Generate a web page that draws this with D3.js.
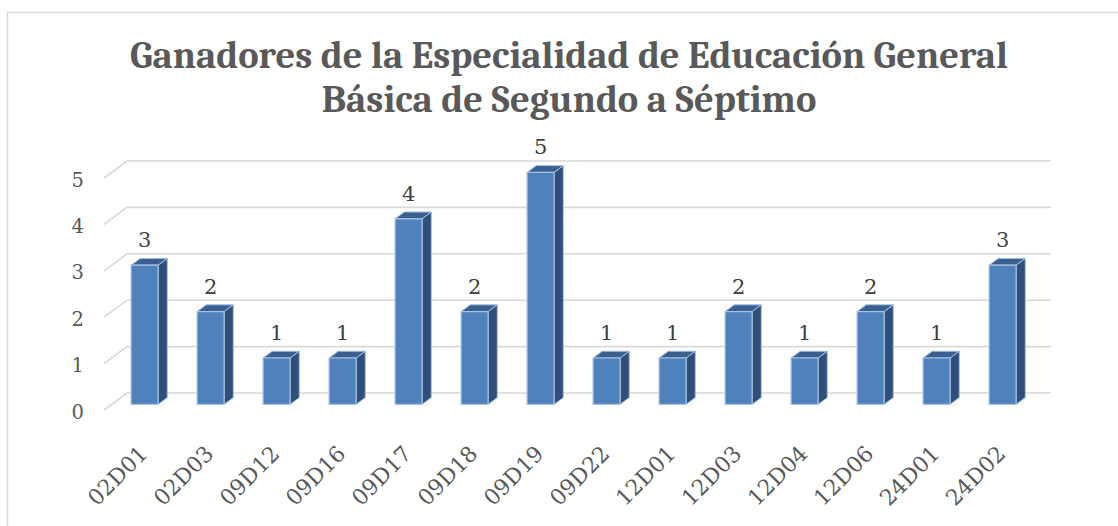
<!DOCTYPE html>
<html>
<head>
<meta charset="utf-8">
<script src="https://cdn.jsdelivr.net/npm/d3@7"></script>
<style>
  html, body { margin: 0; padding: 0; background: #fff; }
  #svg-container { width: 1118px; height: 526px; }
  svg { display: block; }
</style>
</head>
<body>
<div id="svg-container"></div>
<script>
const categories = ['02D01', '02D03', '09D12', '09D16', '09D17', '09D18', '09D19',
  '09D22', '12D01', '12D03', '12D04', '12D06', '24D01', '24D02']
const values = [3, 2, 1, 1, 4, 2, 5, 1, 1, 2, 1, 2, 1, 3]
const yTicks = [0, 1, 2, 3, 4, 5]
const titleLines = ['Ganadores de la Especialidad de Educación General',
  'Básica de Segundo a Séptimo']

const width = 1118
const height = 526
const titleFont = "Cambria, 'DejaVu Serif', serif"
const font = "'DejaVu Serif', serif"
const textGray = '#595959'

const svg = d3.select('#svg-container').append('svg')
  .attr('width', width).attr('height', height)

// chart area border (only top and left edges fall inside the picture)
svg.append('rect')
  .attr('x', 7.5).attr('y', 12.5)
  .attr('width', 1300).attr('height', 700)
  .attr('fill', '#fff').attr('stroke', '#d9d9d9').attr('stroke-width', 1.5)

// depth offset of the 3d floor (back wall -> front edge)
const depthX = -23
const depthY = 17
const project = (px, py, d) => [px + depthX * d, py + depthY * d]

const x = d3.scaleBand().domain(categories).range([127, 1051]).padding(0)
const y = d3.scaleLinear().domain([0, 5]).range([393, 161])

// gridlines: diagonal on the side wall + horizontal on the back wall
const grid = svg.append('g')
yTicks.forEach(t => {
  const [fx, fy] = project(127, y(t), 1)
  grid.append('path')
    .attr('d', `M${fx},${fy}L127,${y(t)}L1051,${y(t)}`)
    .attr('fill', 'none').attr('stroke', '#d9d9d9').attr('stroke-width', 1.6)
  grid.append('text')
    .attr('x', 84).attr('y', fy + 2)
    .attr('text-anchor', 'end').attr('dominant-baseline', 'central')
    .attr('font-family', font).attr('font-size', 19.5).attr('fill', textGray)
    .text(t)
})

// bars
const frontD = 0.67
const backD = 0.27
const barW = 27
const bars = svg.append('g')
categories.forEach((c, i) => {
  const v = values[i]
  const cx = x(c) + x.bandwidth() / 2
  const l = cx - barW / 2
  const r = cx + barW / 2
  const fTL = project(l, y(v), frontD), fTR = project(r, y(v), frontD)
  const fBL = project(l, y(0), frontD), fBR = project(r, y(0), frontD)
  const bTL = project(l, y(v), backD), bTR = project(r, y(v), backD)
  const bBR = project(r, y(0), backD)
  const poly = pts => 'M' + pts.map(p => p.join(',')).join('L') + 'Z'
  bars.append('path').attr('d', poly([fTR, bTR, bBR, fBR]))
    .attr('fill', '#2f507c').attr('stroke', '#a7c0de').attr('stroke-width', 1)
  bars.append('path').attr('d', poly([fTL, fTR, bTR, bTL]))
    .attr('fill', '#3a6092').attr('stroke', '#a7c0de').attr('stroke-width', 1)
  bars.append('path').attr('d', poly([fTL, fTR, fBR, fBL]))
    .attr('fill', '#4f81bd').attr('stroke', '#a7c0de').attr('stroke-width', 1.2)
  bars.append('text')
    .attr('x', (fTL[0] + fTR[0]) / 2).attr('y', fTL[1] - 18)
    .attr('text-anchor', 'middle')
    .attr('font-family', font).attr('font-size', 21).attr('fill', '#404040')
    .text(v)
  // category label, rotated
  const [lx, ly] = project(cx, y(0), 1)
  svg.append('text')
    .attr('transform', `translate(${lx + 12},${ly + 45}) rotate(-45)`)
    .attr('text-anchor', 'end')
    .attr('font-family', font).attr('font-size', 22).attr('fill', textGray)
    .text(c)
})

// title, sized to match the original width
const title = svg.append('g')
const t1 = title.append('text')
  .attr('x', 569).attr('y', 68).attr('text-anchor', 'middle')
  .attr('font-family', titleFont).attr('font-weight', 'bold')
  .attr('font-size', 36).attr('fill', textGray)
  .text(titleLines[0])
const fs = 36 * 878 / t1.node().getComputedTextLength()
t1.attr('font-size', fs)
title.append('text')
  .attr('x', 569).attr('y', 112).attr('text-anchor', 'middle')
  .attr('font-family', titleFont).attr('font-weight', 'bold')
  .attr('font-size', fs).attr('fill', textGray)
  .text(titleLines[1])
</script>
</body>
</html>
